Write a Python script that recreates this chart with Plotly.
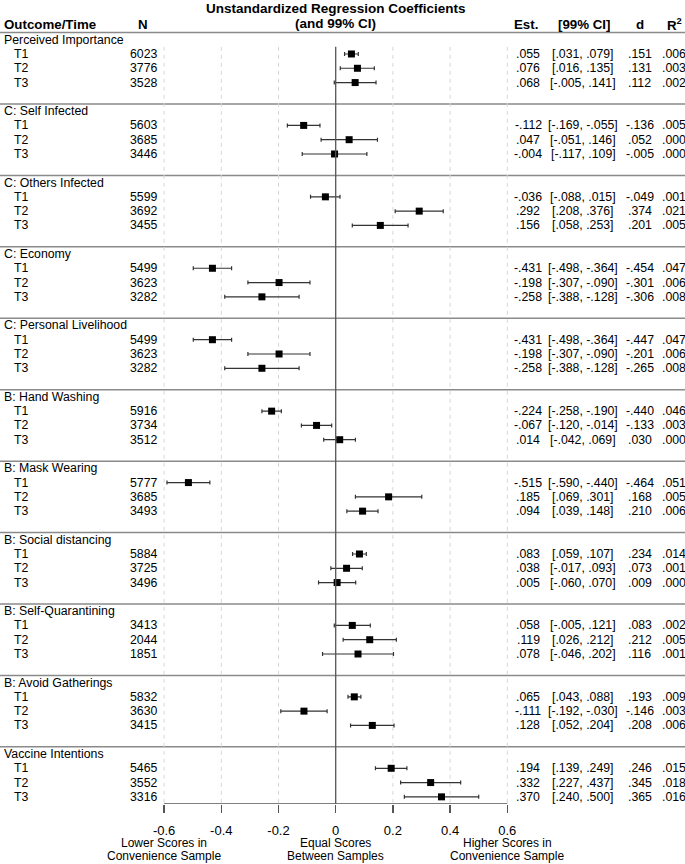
import plotly.graph_objects as go

# ---------------- data ----------------
outcomes = ["Perceived Importance", "C: Self Infected", "C: Others Infected", "C: Economy",
            "C: Personal Livelihood", "B: Hand Washing", "B: Mask Wearing",
            "B: Social distancing", "B: Self-Quarantining", "B: Avoid Gatherings",
            "Vaccine Intentions"]
times = ["T1", "T2", "T3"]

n_vals = [6023, 3776, 3528,  5603, 3685, 3446,  5599, 3692, 3455,  5499, 3623, 3282,
          5499, 3623, 3282,  5916, 3734, 3512,  5777, 3685, 3493,  5884, 3725, 3496,
          3413, 2044, 1851,  5832, 3630, 3415,  5465, 3552, 3316]
est = [.055, .076, .068,  -.112, .047, -.004,  -.036, .292, .156,  -.431, -.198, -.258,
       -.431, -.198, -.258,  -.224, -.067, .014,  -.515, .185, .094,  .083, .038, .005,
       .058, .119, .078,  .065, -.111, .128,  .194, .332, .370]
ci_lo = [.031, .016, -.005,  -.169, -.051, -.117,  -.088, .208, .058,  -.498, -.307, -.388,
         -.498, -.307, -.388,  -.258, -.120, -.042,  -.590, .069, .039,  .059, -.017, -.060,
         -.005, .026, -.046,  .043, -.192, .052,  .139, .227, .240]
ci_hi = [.079, .135, .141,  -.055, .146, .109,  .015, .376, .253,  -.364, -.090, -.128,
         -.364, -.090, -.128,  -.190, -.014, .069,  -.440, .301, .148,  .107, .093, .070,
         .121, .212, .202,  .088, -.030, .204,  .249, .437, .500]
d_vals = [.151, .131, .112,  -.136, .052, -.005,  -.049, .374, .201,  -.454, -.301, -.306,
          -.447, -.201, -.265,  -.440, -.133, .030,  -.464, .168, .210,  .234, .073, .009,
          .083, .212, .116,  .193, -.146, .208,  .246, .345, .365]
r2_vals = [.006, .003, .002,  .005, .000, .000,  .001, .021, .005,  .047, .006, .008,
           .047, .006, .008,  .046, .003, .000,  .051, .005, .006,  .014, .001, .000,
           .002, .005, .001,  .009, .003, .006,  .015, .018, .016]

tick_vals = [-0.6, -0.4, -0.2, 0, 0.2, 0.4, 0.6]
tick_text = ["-0.6", "-0.4", "-0.2", "0", "0.2", "0.4", "0.6"]
bottom_labels = [(-0.6, "Lower Scores in", "Convenience Sample"),
                 (0.0, "Equal Scores", "Between Samples"),
                 (0.6, "Higher Scores in", "Convenience Sample")]

# ---------------- layout constants ----------------
W, H = 685, 864
ZERO_PX = 335.7
PX_PER_UNIT = 286.0
ROW_PX = 14.286
BOTTOM_MARGIN = 60
PLOT_H = H - BOTTOM_MARGIN
Y_BOTTOM = 54.5
Y_TOP = Y_BOTTOM - PLOT_H / ROW_PX

FONT = "Liberation Sans, Arial, sans-serif"
BODY = 12.3


def fmt(v):
    s = f"{v:.3f}"
    return s.replace("0.", ".", 1)


def px2paper(px):
    return px / W


rows, labels_t = [], []
for g, name in enumerate(outcomes):
    for t, tl in enumerate(times):
        rows.append(2 + 5 * g + t)
        labels_t.append(tl)

fig = go.Figure()

fig.add_trace(go.Scatter(
    x=est, y=rows, mode="markers",
    marker=dict(symbol="square", size=7, color="black"),
    error_x=dict(type="data", symmetric=False,
                 array=[h - e for h, e in zip(ci_hi, est)],
                 arrayminus=[e - l for e, l in zip(est, ci_lo)],
                 color="#333333", thickness=1.2, width=2),
    showlegend=False, hoverinfo="skip"))

shapes = []
# separators
for yv in [0.5] + [5.5 + 5 * i for i in range(10)]:
    shapes.append(dict(type="line", xref="paper", yref="y", x0=0, x1=1, y0=yv, y1=yv,
                       line=dict(color="#8a8a8a", width=1.5), layer="below"))
# dashed gridlines
for xv in tick_vals:
    if xv == 0:
        continue
    shapes.append(dict(type="line", xref="x", yref="y", x0=xv, x1=xv, y0=1.5, y1=Y_BOTTOM,
                       line=dict(color="#d8d8d8", width=1, dash="4px,4px"), layer="below"))
# zero line
shapes.append(dict(type="line", xref="x", yref="y", x0=0, x1=0, y0=1.5, y1=Y_BOTTOM,
                   line=dict(color="#555555", width=1.3)))
# axis line
shapes.append(dict(type="line", xref="x", yref="y", x0=-0.6, x1=0.6, y0=Y_BOTTOM, y1=Y_BOTTOM,
                   line=dict(color="#555555", width=1.3)))

ann = []


def add_text(text, xpx, y, anchor="center", size=BODY, bold=False, yref="y"):
    if bold:
        text = f"<b>{text}</b>"
    ann.append(dict(text=text, x=px2paper(xpx), xref="paper", y=y, yref=yref,
                    xanchor=anchor, yanchor="middle", showarrow=False,
                    font=dict(family=FONT, size=size, color="black")))


# title
ann.append(dict(text="<b>Unstandardized Regression Coefficients</b>", x=0, xref="x",
                y=-1.2, yref="y", xanchor="center", yanchor="middle", showarrow=False,
                font=dict(family=FONT, size=13.5, color="black")))
ann.append(dict(text="<b>(and 99% CI)</b>", x=0, xref="x",
                y=-0.1, yref="y", xanchor="center", yanchor="middle", showarrow=False,
                font=dict(family=FONT, size=13.5, color="black")))

# headers
HY = -0.08
add_text("Outcome/Time", 2, HY, "left", 13.3, True)
add_text("N", 143.3, HY, "center", 13.3, True)
add_text("Est.", 525.5, HY, "center", 13.3, True)
add_text("[99% CI]", 584, HY, "center", 13.3, True)
add_text("d", 640, HY, "center", 13.3, True)
add_text("R<sup>2</sup>", 665, HY, "left", 13.3, True)

for g, name in enumerate(outcomes):
    add_text(name, 1.5, 1 + 5 * g, "left")

for i, r in enumerate(rows):
    add_text(labels_t[i], 12, r, "left")
    add_text(str(n_vals[i]), 143.5, r, "center")
    add_text(fmt(est[i]), 528, r, "center")
    add_text(f"[{fmt(ci_lo[i])}, {fmt(ci_hi[i])}]", 583, r, "center")
    add_text(fmt(d_vals[i]), 639.5, r, "center")
    add_text(fmt(r2_vals[i]), 674, r, "center")

# bottom captions
for xv, l1, l2 in bottom_labels:
    for txt, ypx in ((l1, 842.5), (l2, 856.3)):
        ann.append(dict(text=txt, x=xv, xref="x", y=1 - ypx / PLOT_H, yref="paper",
                        xanchor="center", yanchor="middle", showarrow=False,
                        font=dict(family=FONT, size=12, color="black")))

fig.update_layout(
    width=W, height=H, autosize=False,
    margin=dict(l=0, r=0, t=0, b=BOTTOM_MARGIN, pad=0),
    plot_bgcolor="white", paper_bgcolor="white",
    shapes=shapes, annotations=ann, showlegend=False,
    xaxis=dict(range=[(0 - ZERO_PX) / PX_PER_UNIT, (W - ZERO_PX) / PX_PER_UNIT],
               tickvals=tick_vals, ticktext=tick_text, ticks="outside", ticklen=8,
               tickcolor="#555555", tickwidth=1.3, showline=False, showgrid=False,
               zeroline=False, tickfont=dict(family=FONT, size=13, color="black"),
               ticklabelstandoff=6, fixedrange=True),
    yaxis=dict(range=[Y_BOTTOM, Y_TOP], visible=False, showgrid=False, zeroline=False,
               fixedrange=True),
)

fig.write_html("out.html",
               config={"displayModeBar": False, "staticPlot": True},
               post_script="document.body.style.margin='0px';"
                           "document.body.style.overflow='hidden';")
